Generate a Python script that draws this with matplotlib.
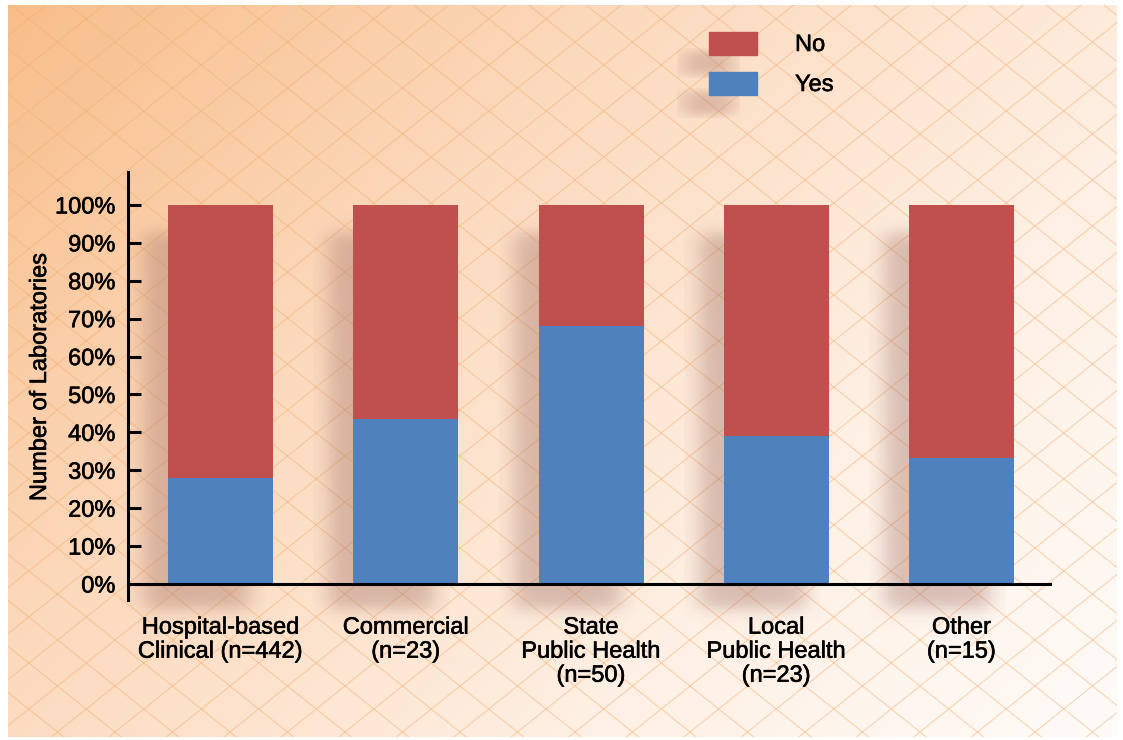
import numpy as np
import matplotlib
matplotlib.use("Agg")
import matplotlib.pyplot as plt
from matplotlib.patches import Rectangle
import matplotlib.patheffects as pe

categories = ["Hospital-based\nClinical (n=442)", "Commercial\n(n=23)",
              "State\nPublic Health\n(n=50)", "Local\nPublic Health\n(n=23)",
              "Other\n(n=15)"]
yes_pct = [28.0, 43.5, 68.0, 39.1, 33.3]
no_pct = [100 - v for v in yes_pct]
yticks = list(range(0, 101, 10))
ytick_labels = [f"{v}%" for v in yticks]

RED = "#C0504D"
BLUE = "#4F81BD"
FONT = "Liberation Sans"
FS = 17
plt.rcParams['font.family'] = [FONT, 'DejaVu Sans']
PE = [pe.withStroke(linewidth=0.4, foreground="black")]

W, H = 1123, 740
fig = plt.figure(figsize=(W / 100, H / 100), dpi=100)
fig.patch.set_facecolor("white")

# ---------- background ----------
bg = fig.add_axes([0, 0, 1, 1], zorder=0)
bg.set_xlim(0, W)
bg.set_ylim(H, 0)
bg.axis("off")
x0, x1, y0, y1 = 8, 1117, 5, 737
yy, xx = np.mgrid[0:200, 0:300]
t = 0.62 * xx / 299 + 0.38 * yy / 199
stops = np.array([0.0, 0.35, 0.7, 1.0])
cols = np.array([[248, 190, 138], [252, 218, 190], [254, 240, 228], [255, 251, 248]]) / 255
img = np.zeros((200, 300, 3))
for k in range(3):
    img[..., k] = np.interp(t, stops, cols[:, k])
bg.imshow(img, extent=(x0, x1, y1, y0), aspect="auto", zorder=0, interpolation="bilinear")
clip = Rectangle((x0, y0), x1 - x0, y1 - y0, transform=bg.transData, visible=False)
bg.add_patch(clip)
slope = 0.8
spacing = 46
for c in np.arange(-1200, 2400, spacing):
    xs = np.array([-100, W + 100])
    for s in (slope, -slope):
        l, = bg.plot(xs, c + s * xs, color="#F5AE70", lw=0.7, alpha=0.55, zorder=1)
        l.set_clip_path(clip)
bg.set_xlim(0, W)
bg.set_ylim(H, 0)


def shadow_img(n=120, m=120, sx=0.07, sy=0.07, color=(160, 110, 100), amax=0.4):
    u = np.linspace(-0.15, 1.15, m)
    v = np.linspace(-0.15, 1.15, n)
    fx = 1 / (1 + np.exp(-u / sx)) * 1 / (1 + np.exp(-(1 - u) / sx))
    fy = 1 / (1 + np.exp(-v / sy)) * 1 / (1 + np.exp(-(1 - v) / sy))
    a = np.outer(fy, fx) * amax
    out = np.zeros((n, m, 4))
    out[..., 0] = color[0] / 255
    out[..., 1] = color[1] / 255
    out[..., 2] = color[2] / 255
    out[..., 3] = a
    return out


def extent_expand(xa, xb, ya, yb):
    dx = (xb - xa) * 0.15
    dy = (yb - ya) * 0.15
    return (xa - dx, xb + dx, ya - dy, yb + dy)

# legend (manual)
leg_items = [("No", RED, 32), ("Yes", BLUE, 72)]
for lab, col, ytop in leg_items:
    e = extent_expand(684, 732, ytop + 20, ytop + 43)
    bg.imshow(shadow_img(sx=0.12, sy=0.12, amax=0.35), extent=(e[0], e[1], e[3], e[2]),
              aspect="auto", zorder=2)
    bg.add_patch(Rectangle((709, ytop), 48, 23, color=col, zorder=3))
    bg.text(795, ytop + 13, lab, fontsize=FS, va="center", ha="left", zorder=3,
            path_effects=PE)
bg.set_xlim(0, W)
bg.set_ylim(H, 0)

# ---------- main axes ----------
ylo, yhi = -4.22, 108.7
ax = fig.add_axes([128 / W, 1 - 600 / H, (1050 - 128) / W, (600 - 172) / H], zorder=1)
ax.set_facecolor("none")
x = np.arange(len(categories))
bw = 0.567
for i in x:
    xa = i - bw / 2 - 0.13
    xb = i + bw / 2 - 0.13
    ya, yb = -6.8, 93.0
    e = extent_expand(xa, xb, ya, yb)
    im = ax.imshow(shadow_img(sx=0.06, sy=0.012), extent=(e[0], e[1], e[2], e[3]),
                   origin="lower", aspect="auto", zorder=0.5)
    im.set_clip_on(False)

ax.bar(x, yes_pct, width=bw, color=BLUE, zorder=2)
ax.bar(x, no_pct, width=bw, bottom=yes_pct, color=RED, zorder=2)

ax.set_xlim(-0.5, 4.478)
ax.set_ylim(ylo, yhi)
ax.spines["top"].set_visible(False)
ax.spines["right"].set_visible(False)
ax.spines["bottom"].set_position(("data", 0))
for s in ("left", "bottom"):
    ax.spines[s].set_linewidth(2.2)
ax.set_yticks(yticks)
ax.set_yticklabels(ytick_labels, fontsize=FS)
ax.tick_params(axis="y", direction="in", length=9.5, width=2.2, pad=9)
ax.set_xticks(x)
ax.set_xticklabels(categories, fontsize=FS, linespacing=1.12)
ax.tick_params(axis="x", length=0, pad=23.5)
for lbl in ax.get_xticklabels() + ax.get_yticklabels():
    lbl.set_path_effects(PE)

fig.text(40 / W, 1 - 377 / H, "Number of Laboratories", rotation=90,
         fontsize=FS, ha="center", va="center", path_effects=PE)

fig.savefig("out.png", dpi=100)
